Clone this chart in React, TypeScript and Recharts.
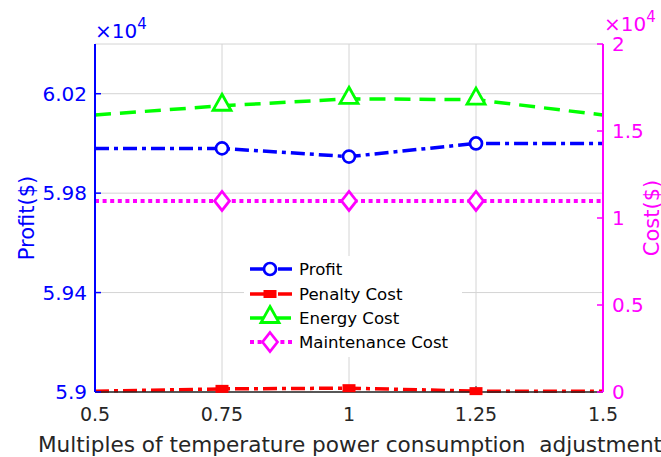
import React from 'react';
import { LineChart, Line, XAxis, YAxis, CartesianGrid } from 'recharts';

const multiples = [0.5, 0.75, 1, 1.25, 1.5];
const profit = [59980, 59980, 59947, 60000, 60000];
const penaltyCost = [50, 180, 220, 50, 50];
const energyCost = [15920, 16450, 16850, 16800, 15920];
const maintenanceCost = [10980, 10980, 10980, 10980, 10980];

const xTicks = [0.5, 0.75, 1, 1.25, 1.5];
const profitTicks = [59000, 59400, 59800, 60200];
const costTicks = [0, 5000, 10000, 15000, 20000];

const seriesNames = ['Profit', 'Penalty Cost', 'Energy Cost', 'Maintenance Cost'];
const xTitle = 'Multiples of temperature power consumption  adjustment';
const leftTitle = 'Profit($)';
const rightTitle = 'Cost($)';

const data = multiples.map((m, i) => ({
  m,
  profit: profit[i],
  penalty: penaltyCost[i],
  energy: energyCost[i],
  maintenance: maintenanceCost[i],
}));

const FONT = "'DejaVu Sans', sans-serif";
const BLUE = '#0000ff';
const RED = '#ff0000';
const GREEN = '#00ff00';
const MAGENTA = '#ff00ff';
const AXIS_TEXT = '#262626';

type Kind = 'circle' | 'square' | 'triangle' | 'diamond';

const series: { key: string; axis: string; color: string; dash: string; kind: Kind; width: number }[] = [
  { key: 'profit', axis: 'left', color: BLUE, dash: '14 5 4 5', kind: 'circle', width: 3.5 },
  { key: 'penalty', axis: 'right', color: RED, dash: '14 5 4 5', kind: 'square', width: 3.5 },
  { key: 'energy', axis: 'right', color: GREEN, dash: '16 9', kind: 'triangle', width: 3.5 },
  { key: 'maintenance', axis: 'right', color: MAGENTA, dash: '4 3.6', kind: 'diamond', width: 4 },
];

function Marker({ kind, cx, cy, color }: { kind: Kind; cx: number; cy: number; color: string }) {
  switch (kind) {
    case 'circle':
      return <circle cx={cx} cy={cy} r={6} fill="#fff" stroke={color} strokeWidth={2.7} />;
    case 'square':
      return <rect x={cx - 6.5} y={cy - 4} width={13} height={8} fill={color} />;
    case 'triangle':
      return (
        <polygon
          points={`${cx},${cy - 11.5} ${cx + 9},${cy + 4.5} ${cx - 9},${cy + 4.5}`}
          fill="#fff"
          stroke={color}
          strokeWidth={2.8}
        />
      );
    case 'diamond':
    default:
      return (
        <polygon
          points={`${cx},${cy - 9.5} ${cx + 7.5},${cy} ${cx},${cy + 9.5} ${cx - 7.5},${cy}`}
          fill="#fff"
          stroke={color}
          strokeWidth={2.7}
        />
      );
  }
}

const makeDot = (kind: Kind, color: string) => (props: any) => {
  const { cx, cy, index } = props;
  const k = `dot-${kind}-${index}`;
  if (cx == null || cy == null || index === 0 || index === multiples.length - 1) return <g key={k} />;
  return (
    <g key={k}>
      <Marker kind={kind} cx={cx} cy={cy} color={color} />
    </g>
  );
};

const ProfitLabel = () => (
  <g>
    <text
      x={34}
      y={218}
      transform="rotate(-90, 34, 218)"
      textAnchor="middle"
      fill={BLUE}
      fontSize={21}
      fontFamily={FONT}
    >
      {leftTitle}
    </text>
    <text x={95} y={38} fill={BLUE} fontSize={20} fontFamily={FONT}>
      ×10
      <tspan fontSize={15} dy={-9}>
        4
      </tspan>
    </text>
  </g>
);

const CostLabel = () => (
  <g>
    <text
      x={659}
      y={218}
      transform="rotate(-90, 659, 218)"
      textAnchor="middle"
      fill={MAGENTA}
      fontSize={21}
      fontFamily={FONT}
    >
      {rightTitle}
    </text>
    <text x={604} y={31} fill={MAGENTA} fontSize={20} fontFamily={FONT}>
      ×10
      <tspan fontSize={15} dy={-9}>
        4
      </tspan>
    </text>
  </g>
);

const XTitle = () => (
  <text
    x={350}
    y={452}
    textAnchor="middle"
    fill={AXIS_TEXT}
    fontSize={21.6}
    fontFamily={FONT}
    style={{ whiteSpace: 'pre' }}
  >
    {xTitle}
  </text>
);

const fmt = (v: number) => String(Number((v / 10000).toFixed(2)));

function LegendBox() {
  const rowY = [13, 38, 62, 86];
  return (
    <div
      style={{
        position: 'absolute',
        left: 244,
        top: 256,
        width: 218,
        height: 101,
        background: '#fff',
      }}
    >
      <svg width={218} height={101}>
        {series.map((s, i) => (
          <g key={s.key}>
            <line
              x1={6}
              x2={48}
              y1={rowY[i]}
              y2={rowY[i]}
              stroke={s.color}
              strokeWidth={s.width}
              strokeDasharray={s.dash}
            />
            <Marker kind={s.kind} cx={26} cy={rowY[i]} color={s.color} />
            <text x={55} y={rowY[i]} dy="0.36em" fontSize={16.6} fontFamily={FONT} fill="#000">
              {seriesNames[i]}
            </text>
          </g>
        ))}
      </svg>
    </div>
  );
}

export default function App() {
  return (
    <div style={{ position: 'absolute', left: 0, top: 0, width: 661, height: 457, background: '#fff' }}>
      <LineChart width={661} height={457} data={data} margin={{ top: 44, right: 0, bottom: 0, left: 0 }}>
        <CartesianGrid xAxisId="b" yAxisId="left" stroke="#d4d4d4" strokeWidth={1} />
        <XAxis
          xAxisId="b"
          dataKey="m"
          type="number"
          domain={[0.5, 1.5]}
          ticks={xTicks}
          tickFormatter={(v: number) => String(v)}
          height={65}
          axisLine={{ stroke: '#262626', strokeWidth: 1.5 }}
          tickLine={{ stroke: '#262626', strokeWidth: 1 }}
          tickSize={-6}
          tickMargin={22}
          tick={{ fill: AXIS_TEXT, fontSize: 19, fontFamily: FONT }}
          label={XTitle}
        />
        <XAxis
          xAxisId="t"
          orientation="top"
          dataKey="m"
          type="number"
          domain={[0.5, 1.5]}
          ticks={xTicks}
          height={0}
          axisLine={{ stroke: '#262626', strokeWidth: 1.5 }}
          tickLine={{ stroke: '#262626', strokeWidth: 1 }}
          tickSize={-6}
          tick={false}
        />
        <YAxis
          yAxisId="left"
          orientation="left"
          domain={[59000, 60400]}
          ticks={profitTicks}
          tickFormatter={fmt}
          width={95}
          axisLine={{ stroke: BLUE, strokeWidth: 2 }}
          tickLine={{ stroke: BLUE, strokeWidth: 1.5 }}
          tickSize={-6}
          tickMargin={14}
          tick={{ fill: BLUE, fontSize: 20, fontFamily: FONT }}
          label={ProfitLabel}
        />
        <YAxis
          yAxisId="right"
          orientation="right"
          domain={[0, 20000]}
          ticks={costTicks}
          tickFormatter={fmt}
          width={58}
          axisLine={{ stroke: MAGENTA, strokeWidth: 2 }}
          tickLine={{ stroke: MAGENTA, strokeWidth: 1.5 }}
          tickSize={-6}
          tickMargin={15}
          tick={{ fill: MAGENTA, fontSize: 20, fontFamily: FONT }}
          label={CostLabel}
        />
        {series.map((s) => (
          <Line
            key={s.key}
            xAxisId="b"
            yAxisId={s.axis}
            type="linear"
            dataKey={s.key}
            stroke={s.color}
            strokeWidth={s.width}
            strokeDasharray={s.dash}
            dot={makeDot(s.kind, s.color)}
            activeDot={false}
            isAnimationActive={false}
          />
        ))}
      </LineChart>
      <LegendBox />
    </div>
  );
}
